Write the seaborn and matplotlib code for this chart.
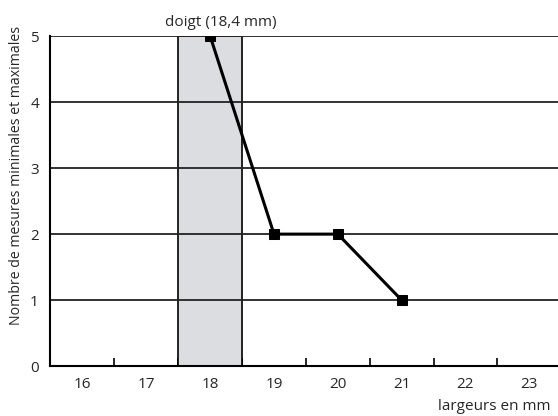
import numpy as np
import matplotlib
matplotlib.use("Agg")
import matplotlib.pyplot as plt
import seaborn as sns

# values
largeurs = [18, 19, 20, 21]
nombre = [5, 2, 2, 1]
x_labels = [16, 17, 18, 19, 20, 21, 22, 23]
y_labels = [0, 1, 2, 3, 4, 5]
doigt_span = (17.5, 18.5)

sns.set_theme(style="white")
plt.rcParams["font.family"] = ["Open Sans", "DejaVu Sans"]

fig = plt.figure(figsize=(5.58, 4.16), dpi=100)
ax = fig.add_axes([0.0896, 0.120, 0.9104, 0.793])

ax.axvspan(doigt_span[0], doigt_span[1], facecolor="#dcdde0",
           edgecolor="black", linewidth=1.2, zorder=1)
for y in y_labels[1:]:
    ax.axhline(y, color="#222222", linewidth=1.3, zorder=2)

sns.lineplot(x=largeurs, y=nombre, ax=ax, color="black", linewidth=2.2,
             marker="s", markersize=6.5, markeredgecolor="black", zorder=3)

ax.set_xlim(15.49, 23.45)
ax.set_ylim(0, 5)
ax.set_xticks(x_labels)
ax.set_xticklabels([str(v) for v in x_labels], fontsize=11)
ax.set_xticks(np.arange(16.5, 23, 1), minor=True)
ax.set_yticks(y_labels)
ax.set_yticklabels([str(v) for v in y_labels], fontsize=11)
ax.tick_params(axis="x", which="major", length=0, pad=8)
ax.tick_params(axis="x", which="minor", direction="in", length=6,
               width=1.2, color="black", bottom=True)
ax.tick_params(axis="y", length=0, pad=8)

for s in ["top", "right"]:
    ax.spines[s].set_visible(False)
for s in ["left", "bottom"]:
    ax.spines[s].set_color("black")
    ax.spines[s].set_linewidth(1.5)

ax.set_ylabel("Nombre de mesures minimales et maximales", fontsize=10.2)
ax.yaxis.set_label_coords(-0.052, 0.579)
ax.text(18.17, 5.1, "doigt (18,4 mm)", ha="center", va="bottom", fontsize=11)
fig.text(0.986, 0.006, "largeurs en mm", ha="right", va="bottom", fontsize=11)

fig.savefig("out.png", dpi=100)
